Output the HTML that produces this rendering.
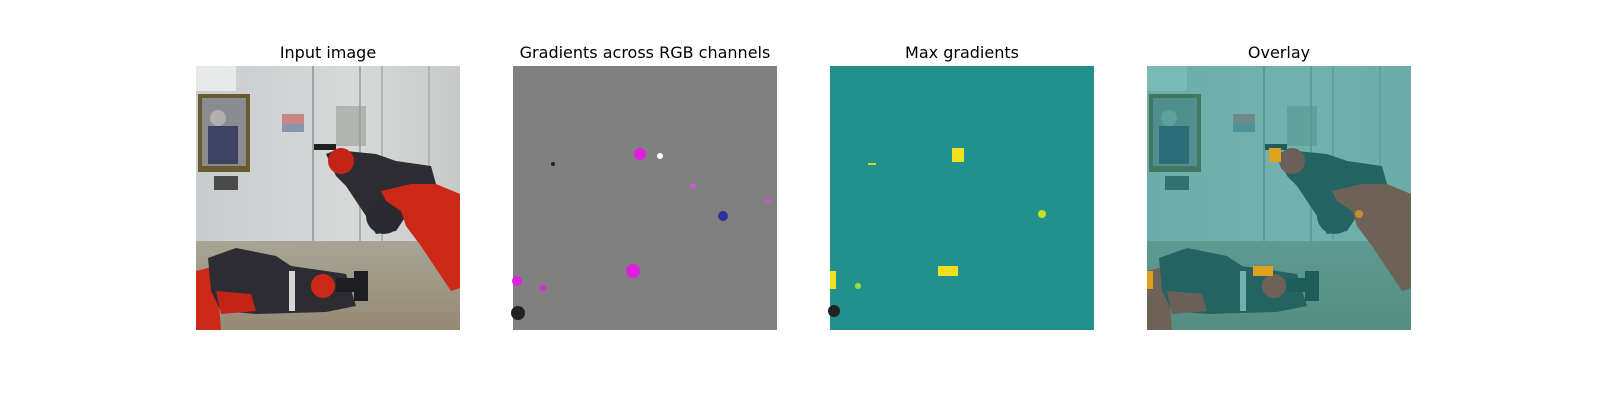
<!DOCTYPE html>
<html><head><meta charset="utf-8"><style>
html,body{margin:0;padding:0;background:#fff;}
svg{display:block}
text{font-family:"DejaVu Sans","Liberation Sans",sans-serif;font-size:16px;fill:#000}
</style></head><body>
<svg width="1600" height="400" viewBox="0 0 1600 400">
<defs>
  <linearGradient id="wall" x1="0" y1="0" x2="1" y2="0">
    <stop offset="0" stop-color="#c8cccc"/><stop offset="0.3" stop-color="#cfd3d3"/><stop offset="0.6" stop-color="#d6d9d8"/><stop offset="1" stop-color="#c8cac9"/>
  </linearGradient>
  <linearGradient id="floor" x1="0" y1="0" x2="0" y2="1">
    <stop offset="0" stop-color="#a8a595"/><stop offset="1" stop-color="#958a74"/>
  </linearGradient>
  <clipPath id="cp"><rect x="0" y="0" width="264" height="264"/></clipPath>
  <g id="photo" clip-path="url(#cp)">
    <rect x="0" y="0" width="264" height="264" fill="url(#wall)"/>
    <rect x="0" y="0" width="40" height="25" fill="#eef0ef" opacity="0.8"/>
    <rect x="0" y="175" width="264" height="89" fill="url(#floor)"/>
    <rect x="2" y="28" width="52" height="78" fill="#6a5a30"/>
    <rect x="6" y="32" width="44" height="68" fill="#8a8c90"/>
    <rect x="12" y="60" width="30" height="38" fill="#3c4260"/>
    <circle cx="22" cy="52" r="8" fill="#b0b0b0"/>
    <rect x="18" y="110" width="24" height="14" fill="#4a4a4a"/>
    <rect x="86" y="48" width="22" height="10" fill="#c87070" opacity="0.8"/>
    <rect x="86" y="58" width="22" height="8" fill="#6a7a9a" opacity="0.7"/>
    <rect x="116" y="0" width="2" height="175" fill="#9fa3a3"/>
    <rect x="163" y="0" width="2" height="175" fill="#a8acac"/>
    <rect x="185" y="0" width="2" height="175" fill="#b0b4b4"/>
    <rect x="232" y="0" width="2" height="175" fill="#b0b4b4"/>
    <rect x="140" y="40" width="30" height="40" fill="#9a9c98" opacity="0.6"/>
    <rect x="118" y="78" width="22" height="6" fill="#202020"/>
    <polygon points="130,88 140,84 180,88 200,95 235,100 240,118 225,135 210,150 200,165 180,168 170,150 150,120 140,110" fill="#2c2c32"/>
    <circle cx="188" cy="150" r="18" fill="#2a2a30"/>
    <circle cx="145" cy="95" r="13" fill="#c42418"/>
    <polygon points="185,125 215,118 240,118 264,128 264,222 255,225 225,180 210,160 205,145 190,135" fill="#cc2818"/>
    <polygon points="0,205 20,200 25,264 0,264" fill="#cc2818"/>
    <polygon points="12,192 40,182 80,190 95,200 130,205 150,208 160,240 130,246 60,248 25,245 15,225" fill="#2c2c32"/>
    <polygon points="20,225 55,228 60,245 25,248" fill="#c42418"/>
    <rect x="93" y="205" width="6" height="40" fill="#d8d6d6"/>
    <circle cx="127" cy="220" r="12" fill="#cc2818"/>
    <rect x="140" y="212" width="32" height="14" fill="#1e1e22"/>
    <rect x="158" y="205" width="14" height="30" fill="#1e1e22"/>
  </g>
</defs>

<text x="328" y="58" text-anchor="middle">Input image</text>
<text x="645" y="58" text-anchor="middle">Gradients across RGB channels</text>
<text x="962" y="58" text-anchor="middle">Max gradients</text>
<text x="1279" y="58" text-anchor="middle">Overlay</text>

<g transform="translate(196,66)">
  <use href="#photo"/>
</g>

<g transform="translate(513,66)">
  <rect width="264" height="264" fill="#808080"/>
  <circle cx="127" cy="88" r="6" fill="#e020e0"/>
  <circle cx="147" cy="90" r="3" fill="#fff"/>
  <circle cx="210" cy="150" r="5" fill="#3030a0"/>
  <circle cx="180" cy="120" r="3" fill="#c060c0"/>
  <circle cx="255" cy="135" r="3" fill="#d050d0"/>
  <circle cx="120" cy="205" r="7" fill="#e020e0"/>
  <circle cx="4" cy="215" r="5" fill="#e020e0"/>
  <circle cx="30" cy="222" r="3" fill="#e020e0"/>
  <circle cx="5" cy="247" r="7" fill="#222"/>
  <circle cx="40" cy="98" r="2" fill="#222"/>
</g>

<g transform="translate(830,66)">
  <rect width="264" height="264" fill="#21918c"/>
  <rect x="122" y="82" width="12" height="14" fill="#f0e020"/>
  <rect x="108" y="200" width="20" height="10" fill="#f0e020"/>
  <circle cx="212" cy="148" r="4" fill="#c8e020"/>
  <rect x="0" y="205" width="6" height="18" fill="#f0e020"/>
  <circle cx="4" cy="245" r="6" fill="#222"/>
  <circle cx="28" cy="220" r="3" fill="#a0d840"/>
  <rect x="38" y="97" width="8" height="2" fill="#c8e020"/>
</g>

<g transform="translate(1147,66)">
  <use href="#photo"/>
  <rect width="264" height="264" fill="#21918c" opacity="0.55"/>
  <rect x="122" y="82" width="12" height="14" fill="#e0a020"/>
  <rect x="106" y="200" width="20" height="10" fill="#e0a020"/>
  <rect x="0" y="205" width="6" height="18" fill="#e0a020"/>
  <circle cx="212" cy="148" r="4" fill="#c09030"/>
</g>
</svg>
</body></html>
